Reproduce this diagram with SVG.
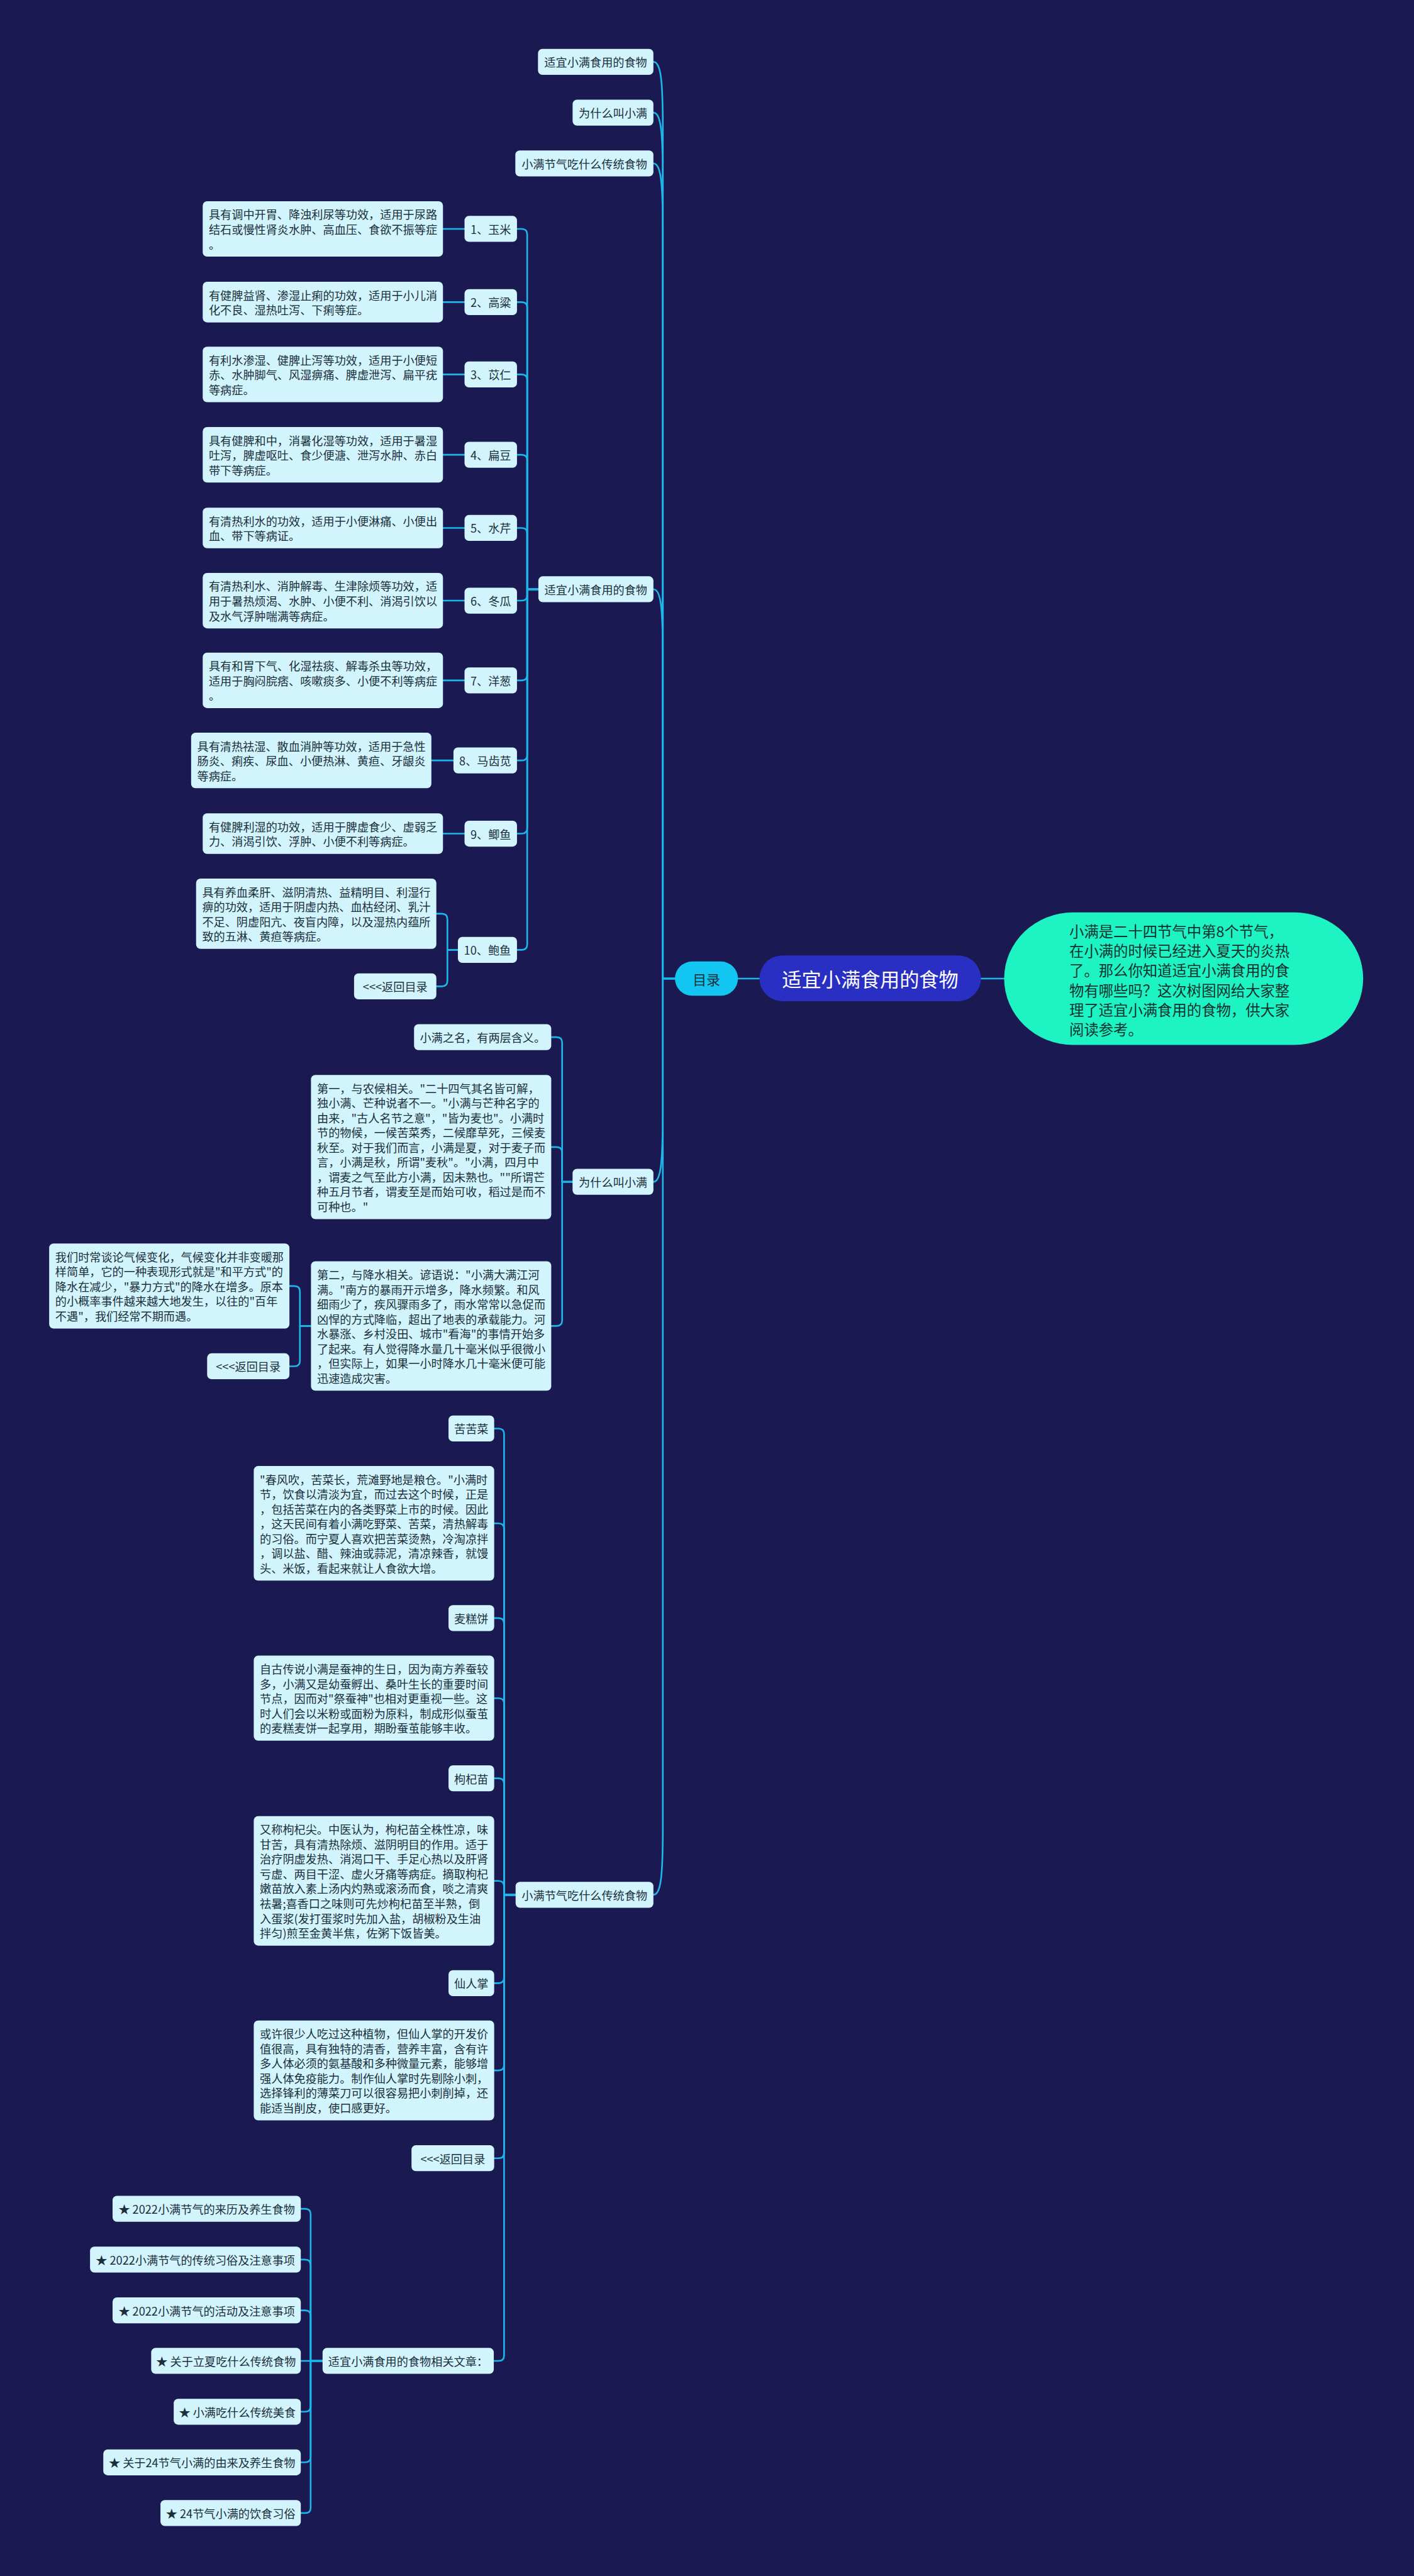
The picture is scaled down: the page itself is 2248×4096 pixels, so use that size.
<svg xmlns="http://www.w3.org/2000/svg" width="2248" height="4096" viewBox="0 0 2248 4096">
<style>
.bx{fill:#d2f4fc}
.tx{font-family:"Noto Sans CJK SC","Noto Sans",sans-serif;font-size:20.7px;fill:#1b2f3b;dominant-baseline:central}
.m{text-anchor:middle}
.c{fill:none;stroke:#1db6ea;stroke-width:3;stroke-linecap:round;stroke-linejoin:round}
</style>
<rect x="0" y="0" width="2248" height="4096" fill="#1a1951"/>
<g transform="scale(0.878125)">
<g id="connectors">
<path class="c" d="M1222 1772 H1200 V232 C1200 142 1196 112 1183 112"/>
<path class="c" d="M1222 1772 H1200 V324 C1200 234 1196 204 1183 204"/>
<path class="c" d="M1222 1772 H1200 V416 C1200 326 1196 296 1183 296"/>
<path class="c" d="M1222 1772 H1200 V1187 C1200 1097 1196 1067 1183 1067"/>
<path class="c" d="M1222 1772 H1200 V2010 C1200 2110 1196 2140 1183 2140"/>
<path class="c" d="M1222 1772 H1200 V3311 C1200 3401 1196 3431 1183 3431"/>
<path class="c" d="M1336 1772 H1375"/>
<path class="c" d="M1776 1772 H1818"/>
<path class="c" d="M935.5 414.5 H944.5 Q954.5 414.5 954.5 424.5 V1067 H974.7"/>
<path class="c" d="M935.5 547 H944.5 Q954.5 547 954.5 557 V1067 H974.7"/>
<path class="c" d="M935.5 678 H944.5 Q954.5 678 954.5 688 V1067 H974.7"/>
<path class="c" d="M935.5 823.5 H944.5 Q954.5 823.5 954.5 833.5 V1067 H974.7"/>
<path class="c" d="M935.5 956 H944.5 Q954.5 956 954.5 966 V1067 H974.7"/>
<path class="c" d="M935.5 1087.6 H944.5 Q954.5 1087.6 954.5 1077.6 V1067 H974.7"/>
<path class="c" d="M935.5 1232 H944.5 Q954.5 1232 954.5 1222 V1067 H974.7"/>
<path class="c" d="M935.5 1377 H944.5 Q954.5 1377 954.5 1367 V1067 H974.7"/>
<path class="c" d="M935.5 1509.5 H944.5 Q954.5 1509.5 954.5 1499.5 V1067 H974.7"/>
<path class="c" d="M935.5 1720 H944.5 Q954.5 1720 954.5 1710 V1067 H974.7"/>
<path class="c" d="M802 414.5 H841"/>
<path class="c" d="M802 547 H841"/>
<path class="c" d="M802 678 H841"/>
<path class="c" d="M802 823.5 H841"/>
<path class="c" d="M802 956 H841"/>
<path class="c" d="M802 1087.6 H841"/>
<path class="c" d="M802 1232 H841"/>
<path class="c" d="M781 1377 H821"/>
<path class="c" d="M802 1509.5 H841"/>
<path class="c" d="M790 1654.5 H800 Q810 1654.5 810 1664.5 V1720 H829"/>
<path class="c" d="M790 1786 H800 Q810 1786 810 1776 V1720 H829"/>
<path class="c" d="M998 1878 H1007.7 Q1017.7 1878 1017.7 1888 V2140 H1036.6"/>
<path class="c" d="M998 2077 H1007.7 Q1017.7 2077 1017.7 2087 V2140 H1036.6"/>
<path class="c" d="M998 2401 H1007.7 Q1017.7 2401 1017.7 2391 V2140 H1036.6"/>
<path class="c" d="M524 2328.7 H533 Q543 2328.7 543 2338.7 V2401 H563"/>
<path class="c" d="M524 2474 H533 Q543 2474 543 2464 V2401 H563"/>
<path class="c" d="M894.7 2586.7 H902.6 Q912.6 2586.7 912.6 2596.7 V3431 H933.5"/>
<path class="c" d="M894.7 2758.4 H902.6 Q912.6 2758.4 912.6 2768.4 V3431 H933.5"/>
<path class="c" d="M894.7 2930 H902.6 Q912.6 2930 912.6 2940 V3431 H933.5"/>
<path class="c" d="M894.7 3075 H902.6 Q912.6 3075 912.6 3085 V3431 H933.5"/>
<path class="c" d="M894.7 3220 H902.6 Q912.6 3220 912.6 3230 V3431 H933.5"/>
<path class="c" d="M894.7 3405.8 H902.6 Q912.6 3405.8 912.6 3415.8 V3431 H933.5"/>
<path class="c" d="M894.7 3591 H902.6 Q912.6 3591 912.6 3581 V3431 H933.5"/>
<path class="c" d="M894.7 3749 H902.6 Q912.6 3749 912.6 3739 V3431 H933.5"/>
<path class="c" d="M894.7 3908 H902.6 Q912.6 3908 912.6 3898 V3431 H933.5"/>
<path class="c" d="M894 4275 H902.6 Q912.6 4275 912.6 4265 V3431 H933.5"/>
<path class="c" d="M544.6 3999.6 H552.4 Q562.4 3999.6 562.4 4009.6 V4275 H584"/>
<path class="c" d="M544.6 4091.6 H552.4 Q562.4 4091.6 562.4 4101.6 V4275 H584"/>
<path class="c" d="M544.6 4183.5 H552.4 Q562.4 4183.5 562.4 4193.5 V4275 H584"/>
<path class="c" d="M544.6 4275 H584"/>
<path class="c" d="M544.6 4367 H552.4 Q562.4 4367 562.4 4357 V4275 H584"/>
<path class="c" d="M544.6 4458.7 H552.4 Q562.4 4458.7 562.4 4448.7 V4275 H584"/>
<path class="c" d="M544.6 4550.5 H552.4 Q562.4 4550.5 562.4 4540.5 V4275 H584"/>
</g>

<g id="main"><rect x="1375" y="1730" width="401" height="83" rx="41.5" fill="#2a2fc4"/><text class="tx m" x="1575.5" y="1771.5" style="font-size:35.5px;fill:#ffffff">适宜小满食用的食物</text></g>
<g id="mulu"><rect x="1222" y="1741" width="114" height="62" rx="31" fill="#13c6f2"/><text class="tx m" x="1279" y="1772" style="font-size:25px">目录</text></g>
<g id="summary"><rect x="1818" y="1652" width="650" height="240" rx="125" ry="120" fill="#1ef3c3"/>
<text class="tx" style="font-size:26.6px;fill:#10332f"><tspan x="1936" y="1685">小满是二十四节气中第8个节气，</tspan><tspan x="1936" y="1720.7">在小满的时候已经进入夏天的炎热</tspan><tspan x="1936" y="1756.5">了。那么你知道适宜小满食用的食</tspan><tspan x="1936" y="1792.3">物有哪些吗？这次树图网给大家整</tspan><tspan x="1936" y="1828">理了适宜小满食用的食物，供大家</tspan><tspan x="1936" y="1863.5">阅读参考。</tspan></text></g>

<g id="toc1"><rect class="bx" x="974" y="88.5" width="209" height="47" rx="8"/><text class="tx m" x="1078.5" y="112">适宜小满食用的食物</text></g>
<g id="toc2"><rect class="bx" x="1036.7" y="180.5" width="146.3" height="47" rx="8"/><text class="tx m" x="1109.8" y="204">为什么叫小满</text></g>
<g id="toc3"><rect class="bx" x="933" y="272.5" width="250" height="47" rx="8"/><text class="tx m" x="1058" y="296">小满节气吃什么传统食物</text></g>

<g id="sec1"><rect class="bx" x="974.7" y="1043.5" width="208.3" height="47" rx="8"/><text class="tx m" x="1078.8" y="1067">适宜小满食用的食物</text></g>
<g id="l1"><rect class="bx" x="841" y="391" width="95" height="47" rx="8"/><text class="tx m" x="888.5" y="414.5">1、玉米</text></g>
<g id="l2"><rect class="bx" x="841" y="523.5" width="95" height="47" rx="8"/><text class="tx m" x="888.5" y="547">2、高粱</text></g>
<g id="l3"><rect class="bx" x="841" y="654.5" width="95" height="47" rx="8"/><text class="tx m" x="888.5" y="678">3、苡仁</text></g>
<g id="l4"><rect class="bx" x="841" y="800" width="95" height="47" rx="8"/><text class="tx m" x="888.5" y="823.5">4、扁豆</text></g>
<g id="l5"><rect class="bx" x="841" y="932.5" width="95" height="47" rx="8"/><text class="tx m" x="888.5" y="956">5、水芹</text></g>
<g id="l6"><rect class="bx" x="841" y="1064.1" width="95" height="47" rx="8"/><text class="tx m" x="888.5" y="1087.6">6、冬瓜</text></g>
<g id="l7"><rect class="bx" x="841" y="1208.5" width="95" height="47" rx="8"/><text class="tx m" x="888.5" y="1232">7、洋葱</text></g>
<g id="l8"><rect class="bx" x="821" y="1353.5" width="115" height="47" rx="8"/><text class="tx m" x="878.5" y="1377">8、马齿苋</text></g>
<g id="l9"><rect class="bx" x="841" y="1486" width="95" height="47" rx="8"/><text class="tx m" x="888.5" y="1509.5">9、鲫鱼</text></g>
<g id="l10"><rect class="bx" x="829" y="1696.5" width="107" height="47" rx="8"/><text class="tx m" x="882.5" y="1720">10、鲍鱼</text></g>

<g id="d1"><rect class="bx" x="367" y="364.3" width="435" height="100.4" rx="8"/><text class="tx"><tspan x="378" y="387.7">具有调中开胃、降浊利尿等功效，适用于尿路</tspan><tspan x="378" y="414.5">结石或慢性肾炎水肿、高血压、食欲不振等症</tspan><tspan x="378" y="441.3">。</tspan></text></g>
<g id="d2"><rect class="bx" x="367" y="510.2" width="435" height="73.6" rx="8"/><text class="tx"><tspan x="378" y="533.6">有健脾益肾、渗湿止痢的功效，适用于小儿消</tspan><tspan x="378" y="560.4">化不良、湿热吐泻、下痢等症。</tspan></text></g>
<g id="d3"><rect class="bx" x="367" y="627.8" width="435" height="100.4" rx="8"/><text class="tx"><tspan x="378" y="651.2">有利水渗湿、健脾止泻等功效，适用于小便短</tspan><tspan x="378" y="678">赤、水肿脚气、风湿痹痛、脾虚泄泻、扁平疣</tspan><tspan x="378" y="704.8">等病症。</tspan></text></g>
<g id="d4"><rect class="bx" x="367" y="773.3" width="435" height="100.4" rx="8"/><text class="tx"><tspan x="378" y="796.7">具有健脾和中，消暑化湿等功效，适用于暑湿</tspan><tspan x="378" y="823.5">吐泻，脾虚呕吐、食少便溏、泄泻水肿、赤白</tspan><tspan x="378" y="850.3">带下等病症。</tspan></text></g>
<g id="d5"><rect class="bx" x="367" y="919.2" width="435" height="73.6" rx="8"/><text class="tx"><tspan x="378" y="942.6">有清热利水的功效，适用于小便淋痛、小便出</tspan><tspan x="378" y="969.4">血、带下等病证。</tspan></text></g>
<g id="d6"><rect class="bx" x="367" y="1037.4" width="435" height="100.4" rx="8"/><text class="tx"><tspan x="378" y="1060.8">有清热利水、消肿解毒、生津除烦等功效，适</tspan><tspan x="378" y="1087.6">用于暑热烦渴、水肿、小便不利、消渴引饮以</tspan><tspan x="378" y="1114.4">及水气浮肿喘满等病症。</tspan></text></g>
<g id="d7"><rect class="bx" x="367" y="1181.8" width="435" height="100.4" rx="8"/><text class="tx"><tspan x="378" y="1205.2">具有和胃下气、化湿祛痰、解毒杀虫等功效，</tspan><tspan x="378" y="1232">适用于胸闷脘痞、咳嗽痰多、小便不利等病症</tspan><tspan x="378" y="1258.8">。</tspan></text></g>
<g id="d8"><rect class="bx" x="346" y="1326.8" width="435" height="100.4" rx="8"/><text class="tx"><tspan x="357" y="1350.2">具有清热祛湿、散血消肿等功效，适用于急性</tspan><tspan x="357" y="1377">肠炎、痢疾、尿血、小便热淋、黄疸、牙龈炎</tspan><tspan x="357" y="1403.8">等病症。</tspan></text></g>
<g id="d9"><rect class="bx" x="367" y="1472.7" width="435" height="73.6" rx="8"/><text class="tx"><tspan x="378" y="1496.1">有健脾利湿的功效，适用于脾虚食少、虚弱乏</tspan><tspan x="378" y="1522.9">力、消渴引饮、浮肿、小便不利等病症。</tspan></text></g>
<g id="d10"><rect class="bx" x="355" y="1590.9" width="435" height="127.2" rx="8"/><text class="tx"><tspan x="366" y="1614.3">具有养血柔肝、滋阴清热、益精明目、利湿行</tspan><tspan x="366" y="1641.1">痹的功效，适用于阴虚内热、血枯经闭、乳汁</tspan><tspan x="366" y="1667.9">不足、阴虚阳亢、夜盲内障，以及湿热内蕴所</tspan><tspan x="366" y="1694.7">致的五淋、黄疸等病症。</tspan></text></g>
<g id="back1"><rect class="bx" x="641" y="1762.5" width="149" height="47" rx="8"/><text class="tx m" x="715.5" y="1786">&lt;&lt;&lt;返回目录</text></g>

<g id="sec2"><rect class="bx" x="1036.6" y="2116.5" width="146.4" height="47" rx="8"/><text class="tx m" x="1109.8" y="2140">为什么叫小满</text></g>
<g id="w0"><rect class="bx" x="749.6" y="1854.5" width="248.4" height="47" rx="8"/><text class="tx m" x="873.8" y="1878">小满之名，有两层含义。</text></g>
<g id="w1"><rect class="bx" x="563" y="1946.4" width="435" height="261.2" rx="8"/><text class="tx"><tspan x="574" y="1969.8">第一，与农候相关。"二十四气其名皆可解，</tspan><tspan x="574" y="1996.6">独小满、芒种说者不一。"小满与芒种名字的</tspan><tspan x="574" y="2023.4">由来，"古人名节之意"，"皆为麦也"。小满时</tspan><tspan x="574" y="2050.2">节的物候，一候苦菜秀，二候靡草死，三候麦</tspan><tspan x="574" y="2077">秋至。对于我们而言，小满是夏，对于麦子而</tspan><tspan x="574" y="2103.8">言，小满是秋，所谓"麦秋"。"小满，四月中</tspan><tspan x="574" y="2130.6">，谓麦之气至此方小满，因未熟也。""所谓芒</tspan><tspan x="574" y="2157.4">种五月节者，谓麦至是而始可收，稻过是而不</tspan><tspan x="574" y="2184.2">可种也。"</tspan></text></g>
<g id="w2"><rect class="bx" x="563" y="2283.8" width="435" height="234.4" rx="8"/><text class="tx"><tspan x="574" y="2307.2">第二，与降水相关。谚语说："小满大满江河</tspan><tspan x="574" y="2334">满。"南方的暴雨开示增多，降水频繁。和风</tspan><tspan x="574" y="2360.8">细雨少了，疾风骤雨多了，雨水常常以急促而</tspan><tspan x="574" y="2387.6">凶悍的方式降临，超出了地表的承载能力。河</tspan><tspan x="574" y="2414.4">水暴涨、乡村没田、城市"看海"的事情开始多</tspan><tspan x="574" y="2441.2">了起来。有人觉得降水量几十毫米似乎很微小</tspan><tspan x="574" y="2468">，但实际上，如果一小时降水几十毫米便可能</tspan><tspan x="574" y="2494.8">迅速造成灾害。</tspan></text></g>
<g id="w3"><rect class="bx" x="89" y="2251.7" width="435" height="154" rx="8"/><text class="tx"><tspan x="100" y="2275.1">我们时常谈论气候变化，气候变化并非变暖那</tspan><tspan x="100" y="2301.9">样简单，它的一种表现形式就是"和平方式"的</tspan><tspan x="100" y="2328.7">降水在减少，"暴力方式"的降水在增多。原本</tspan><tspan x="100" y="2355.5">的小概率事件越来越大地发生，以往的"百年</tspan><tspan x="100" y="2382.3">不遇"，我们经常不期而遇。</tspan></text></g>
<g id="back2"><rect class="bx" x="375" y="2450.5" width="149" height="47" rx="8"/><text class="tx m" x="449.5" y="2474">&lt;&lt;&lt;返回目录</text></g>

<g id="sec3"><rect class="bx" x="933.5" y="3407.5" width="249.5" height="47" rx="8"/><text class="tx m" x="1058.2" y="3431">小满节气吃什么传统食物</text></g>
<g id="f1"><rect class="bx" x="812" y="2563.2" width="82.7" height="47" rx="8"/><text class="tx m" x="853.3" y="2586.7">苦苦菜</text></g>
<g id="fd1"><rect class="bx" x="459.4" y="2654.6" width="435.3" height="207.6" rx="8"/><text class="tx"><tspan x="470.4" y="2678">"春风吹，苦菜长，荒滩野地是粮仓。"小满时</tspan><tspan x="470.4" y="2704.8">节，饮食以清淡为宜，而过去这个时候，正是</tspan><tspan x="470.4" y="2731.6">，包括苦菜在内的各类野菜上市的时候。因此</tspan><tspan x="470.4" y="2758.4">，这天民间有着小满吃野菜、苦菜，清热解毒</tspan><tspan x="470.4" y="2785.2">的习俗。而宁夏人喜欢把苦菜烫熟，冷淘凉拌</tspan><tspan x="470.4" y="2812">，调以盐、醋、辣油或蒜泥，清凉辣香，就馒</tspan><tspan x="470.4" y="2838.8">头、米饭，看起来就让人食欲大增。</tspan></text></g>
<g id="f2"><rect class="bx" x="812" y="2906.5" width="82.7" height="47" rx="8"/><text class="tx m" x="853.3" y="2930">麦糕饼</text></g>
<g id="fd2"><rect class="bx" x="459.4" y="2998" width="435.3" height="154" rx="8"/><text class="tx"><tspan x="470.4" y="3021.4">自古传说小满是蚕神的生日，因为南方养蚕较</tspan><tspan x="470.4" y="3048.2">多，小满又是幼蚕孵出、桑叶生长的重要时间</tspan><tspan x="470.4" y="3075">节点，因而对"祭蚕神"也相对更重视一些。这</tspan><tspan x="470.4" y="3101.8">时人们会以米粉或面粉为原料，制成形似蚕茧</tspan><tspan x="470.4" y="3128.6">的麦糕麦饼一起享用，期盼蚕茧能够丰收。</tspan></text></g>
<g id="f3"><rect class="bx" x="812" y="3196.5" width="82.7" height="47" rx="8"/><text class="tx m" x="853.3" y="3220">枸杞苗</text></g>
<g id="fd3"><rect class="bx" x="459.4" y="3288.6" width="435.3" height="234.4" rx="8"/><text class="tx"><tspan x="470.4" y="3312">又称枸杞尖。中医认为，枸杞苗全株性凉，味</tspan><tspan x="470.4" y="3338.8">甘苦，具有清热除烦、滋阴明目的作用。适于</tspan><tspan x="470.4" y="3365.6">治疗阴虚发热、消渴口干、手足心热以及肝肾</tspan><tspan x="470.4" y="3392.4">亏虚、两目干涩、虚火牙痛等病症。摘取枸杞</tspan><tspan x="470.4" y="3419.2">嫩苗放入素上汤内灼熟或滚汤而食，啖之清爽</tspan><tspan x="470.4" y="3446">祛暑;喜香口之味则可先炒枸杞苗至半熟，倒</tspan><tspan x="470.4" y="3472.8">入蛋浆(发打蛋浆时先加入盐，胡椒粉及生油</tspan><tspan x="470.4" y="3499.6">拌匀)煎至金黄半焦，佐粥下饭皆美。</tspan></text></g>
<g id="f4"><rect class="bx" x="812" y="3567.5" width="82.7" height="47" rx="8"/><text class="tx m" x="853.3" y="3591">仙人掌</text></g>
<g id="fd4"><rect class="bx" x="459.4" y="3658.6" width="435.3" height="180.8" rx="8"/><text class="tx"><tspan x="470.4" y="3682">或许很少人吃过这种植物，但仙人掌的开发价</tspan><tspan x="470.4" y="3708.8">值很高，具有独特的清香，营养丰富，含有许</tspan><tspan x="470.4" y="3735.6">多人体必须的氨基酸和多种微量元素，能够增</tspan><tspan x="470.4" y="3762.4">强人体免疫能力。制作仙人掌时先剔除小刺，</tspan><tspan x="470.4" y="3789.2">选择锋利的薄菜刀可以很容易把小刺削掉，还</tspan><tspan x="470.4" y="3816">能适当削皮，使口感更好。</tspan></text></g>
<g id="back3"><rect class="bx" x="745" y="3884.5" width="149.7" height="47" rx="8"/><text class="tx m" x="819.8" y="3908">&lt;&lt;&lt;返回目录</text></g>
<g id="rel"><rect class="bx" x="584" y="4251.5" width="310" height="47" rx="8"/><text class="tx m" x="739" y="4275">适宜小满食用的食物相关文章：</text></g>
<g id="a1"><rect class="bx" x="203.8" y="3976.1" width="340.8" height="47" rx="8"/><text class="tx m" x="374.2" y="3999.6">★ 2022小满节气的来历及养生食物</text></g>
<g id="a2"><rect class="bx" x="163" y="4068.1" width="381.6" height="47" rx="8"/><text class="tx m" x="353.8" y="4091.6">★ 2022小满节气的传统习俗及注意事项</text></g>
<g id="a3"><rect class="bx" x="203.8" y="4160" width="340.8" height="47" rx="8"/><text class="tx m" x="374.2" y="4183.5">★ 2022小满节气的活动及注意事项</text></g>
<g id="a4"><rect class="bx" x="273.7" y="4251.5" width="270.9" height="47" rx="8"/><text class="tx m" x="409.2" y="4275">★ 关于立夏吃什么传统食物</text></g>
<g id="a5"><rect class="bx" x="314.5" y="4343.5" width="230.1" height="47" rx="8"/><text class="tx m" x="429.6" y="4367">★ 小满吃什么传统美食</text></g>
<g id="a6"><rect class="bx" x="187" y="4435.2" width="357.6" height="47" rx="8"/><text class="tx m" x="365.8" y="4458.7">★ 关于24节气小满的由来及养生食物</text></g>
<g id="a7"><rect class="bx" x="290.5" y="4527" width="254.1" height="47" rx="8"/><text class="tx m" x="417.6" y="4550.5">★ 24节气小满的饮食习俗</text></g>
</g>
</svg>
